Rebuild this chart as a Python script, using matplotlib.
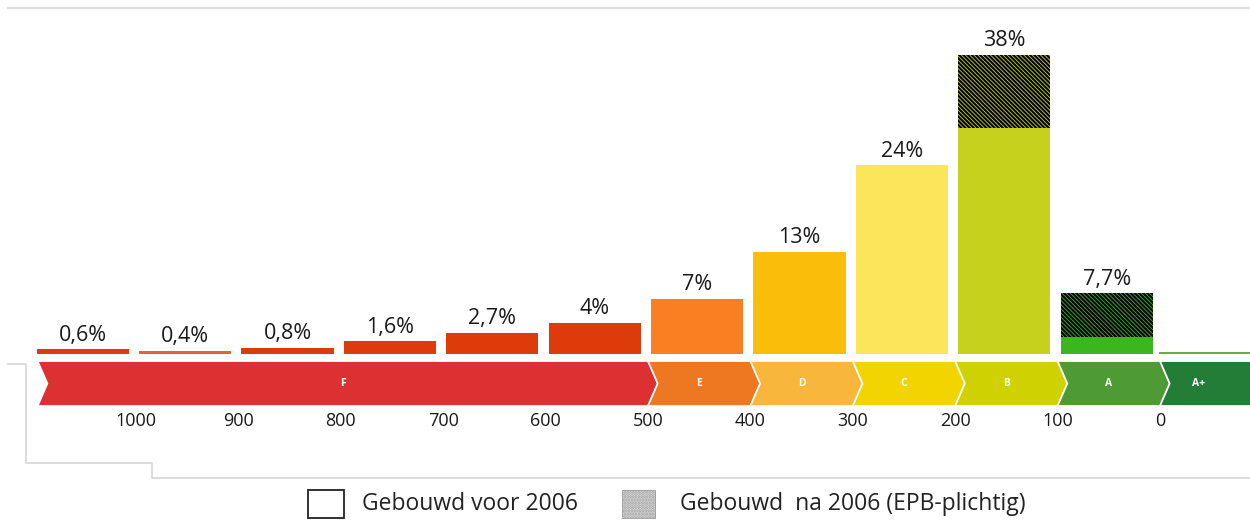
import matplotlib
matplotlib.use("Agg")
import matplotlib.pyplot as plt
from matplotlib.patches import Polygon, Rectangle
from matplotlib.lines import Line2D

# ---------------- data ----------------
bin_starts = [1100, 1000, 900, 800, 700, 600, 500, 400, 300, 200, 100]
labels = ["0,6%", "0,4%", "0,8%", "1,6%", "2,7%", "4%", "7%", "13%", "24%", "38%", "7,7%"]
before_2006 = [0.6, 0.4, 0.8, 1.6, 2.7, 4.0, 7.0, 13.0, 24.0, 28.7, 2.2]
after_2006 = [0, 0, 0, 0, 0, 0, 0, 0, 0, 9.3, 5.5]
bar_colors = ["#de3b0b", "#e8603a", "#de3b0b", "#de3b0b", "#de3b0b", "#de3b0b",
              "#fa7f22", "#f9bd0a", "#fbe55b", "#c6d11d", "#3bb61e"]
aplus_value = 0.25
aplus_color = "#6aae3c"

classes = ["F", "E", "D", "C", "B", "A", "A+"]
class_bounds = [(1096, 500), (500, 400), (400, 300), (300, 200), (200, 100), (100, 0), (0, -95)]
class_colors = ["#dc3033", "#ee7721", "#f8b63c", "#f2d400", "#cfd200", "#4e9a35", "#237d36"]

tick_values = [1000, 900, 800, 700, 600, 500, 400, 300, 200, 100, 0]
tick_labels = ["1000", "900", "800", "700", "600", "500", "400", "300", "200", "100", "0"]

legend_labels = ["Gebouwd voor 2006", "Gebouwd  na 2006 (EPB-plichtig)"]

# ---------------- figure ----------------
plt.rcParams["font.family"] = ["Open Sans", "DejaVu Sans"]
plt.rcParams["hatch.linewidth"] = 1.5
W, H = 1250, 520
fig = plt.figure(figsize=(W / 100, H / 100), dpi=100)
ax = fig.add_axes([0, 0, 1, 1])
ax.axis("off")

px_per_unit = 1.024
x_zero_px = 1160
px_per_pct = 7.87
base_py = 354
ax.set_xlim((x_zero_px - 0) / px_per_unit, (x_zero_px - W) / px_per_unit)
ax.set_ylim((base_py - H) / px_per_pct, base_py / px_per_pct)

# bars
bar_w = 90
centers = [s - 3 - bar_w / 2 for s in bin_starts]
ax.bar(centers, before_2006, width=bar_w, color=bar_colors, linewidth=0, zorder=2)
ax.bar(centers, after_2006, width=bar_w, bottom=before_2006, color=bar_colors,
       edgecolor="black", linewidth=0, hatch="\\" * 8, zorder=2)
# A+ thin bar
ax.bar([-47], [aplus_value], width=95, color=aplus_color, linewidth=0, zorder=2)

# value labels
for c, b, a, lab in zip(centers, before_2006, after_2006, labels):
    ax.annotate(lab, (c, b + a), xytext=(0, 2.5), textcoords="offset points",
                ha="center", va="bottom", fontsize=15.5, color="#1a1a1a")

# ribbon
r_top, r_bot = -0.9, -6.6
r_mid = (r_top + r_bot) / 2
d = 9.5
for i, ((v1, v2), col, name) in enumerate(zip(class_bounds, class_colors, classes)):
    last = i == len(classes) - 1
    pts = [(v1, r_top), (v2, r_top)]
    if not last:
        pts.append((v2 - d, r_mid))
    pts += [(v2, r_bot), (v1, r_bot), (v1 - d, r_mid)]
    ax.add_patch(Polygon(pts, closed=True, facecolor=col, edgecolor="white",
                         linewidth=1.2, zorder=3))
    cx = (v1 + v2) / 2 if not last else -38
    ax.text(cx, r_mid, name, ha="center", va="center", color="white",
            fontsize=7.5, fontweight="bold", zorder=4)

# tick labels
for v, t in zip(tick_values, tick_labels):
    ax.text(v, -8.5, t, ha="center", va="center", fontsize=13, color="#1a1a1a")

# legend
ly = -19.05
sq_h = 3.5
ax.add_patch(Rectangle((832, ly - sq_h / 2), -35, sq_h, facecolor="white",
                       edgecolor="#222222", linewidth=1.3, zorder=3))
ax.text(779, ly, legend_labels[0], ha="left", va="center", fontsize=16.5, color="#222222")
ax.add_patch(Rectangle((525, ly - sq_h / 2), -32, sq_h, facecolor="#e6e6e6",
                       edgecolor="#9a9a9a", linewidth=0.6, hatch="......", zorder=3))
ax.text(469, ly, legend_labels[1], ha="left", va="center", fontsize=16.5, color="#222222")

# frame decorations (figure pixel coordinates)
def fl(xs, ys):
    fig.add_artist(Line2D([x / W for x in xs], [1 - y / H for y in ys],
                          color="#d6d6d6", linewidth=1.2))

fl([8, 1250], [8, 8])
fl([8, 26, 26, 152, 152, 1250], [364, 364, 463, 463, 478, 478])

fig.savefig("out.png", dpi=100)
